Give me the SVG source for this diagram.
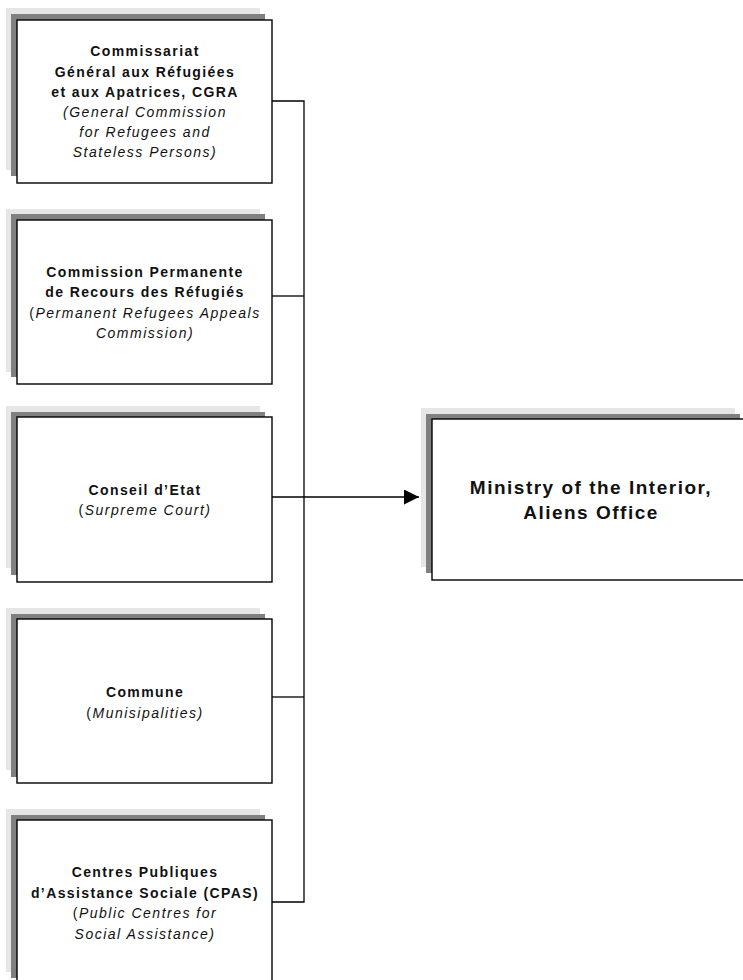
<svg xmlns="http://www.w3.org/2000/svg" width="743" height="980" viewBox="0 0 743 980">
<style>
.s1{fill:#e6e6e6}
.s2{fill:#808080}
.bx{fill:#fff;stroke:#000;stroke-width:1.4}
.b{font-family:"Liberation Sans",Arial,sans-serif;font-weight:bold;font-size:14px;letter-spacing:1.4px;fill:#111;text-anchor:middle}
.i{font-family:"Liberation Sans",Arial,sans-serif;font-style:italic;font-size:14px;letter-spacing:1.5px;fill:#111;text-anchor:middle}
.n{font-style:normal}
.m{font-family:"Liberation Sans",Arial,sans-serif;font-weight:bold;font-size:19px;letter-spacing:1.5px;fill:#111;text-anchor:middle}
.ln{fill:none;stroke:#000;stroke-width:1.3}
</style>
<defs>
<marker id="arr" markerWidth="15" markerHeight="15" refX="15" refY="7.5" orient="auto" markerUnits="userSpaceOnUse">
<path d="M0,0 L15,7.5 L0,15 Z" fill="#000"/>
</marker>
</defs>
<g id="cgra">
<rect class="s1" x="6" y="8" width="254" height="162"/>
<rect class="s2" x="11" y="14" width="254" height="162"/>
<rect class="bx" x="17" y="20" width="255" height="163"/>
<text class="b" x="145" y="56">Commissariat</text>
<text class="b" x="145" y="76.5">Général aux Réfugiées</text>
<text class="b" x="145" y="96.5">et aux Apatrices, CGRA</text>
<text class="i" x="145" y="116.5">(General Commission</text>
<text class="i" x="145" y="137">for Refugees and</text>
<text class="i" x="145" y="157">Stateless Persons)</text>
</g>
<g id="cprr">
<rect class="s1" x="6" y="209" width="254" height="163"/>
<rect class="s2" x="11" y="214" width="254" height="163"/>
<rect class="bx" x="17" y="220" width="255" height="164"/>
<text class="b" x="145" y="277">Commission Permanente</text>
<text class="b" x="145" y="297">de Recours des Réfugiés</text>
<text class="i" x="145" y="318"><tspan class="n">(</tspan>Permanent Refugees Appeals</text>
<text class="i" x="145" y="338">Commission)</text>
</g>
<g id="conseil">
<rect class="s1" x="6" y="406" width="254" height="162"/>
<rect class="s2" x="11" y="412" width="254" height="163"/>
<rect class="bx" x="17" y="417" width="255" height="165"/>
<text class="b" x="145" y="495">Conseil d’Etat</text>
<text class="i" x="145" y="515"><tspan class="n">(</tspan>Surpreme Court)</text>
</g>
<g id="commune">
<rect class="s1" x="6" y="608" width="254" height="162"/>
<rect class="s2" x="11" y="614" width="254" height="163"/>
<rect class="bx" x="17" y="619" width="255" height="164"/>
<text class="b" x="145" y="697">Commune</text>
<text class="i" x="145" y="718"><tspan class="n">(</tspan>Munisipalities)</text>
</g>
<g id="cpas">
<rect class="s1" x="6" y="809" width="254" height="163"/>
<rect class="s2" x="11" y="815" width="254" height="163"/>
<rect class="bx" x="17" y="820" width="255" height="164"/>
<text class="b" x="145" y="877">Centres Publiques</text>
<text class="b" x="145" y="898">d’Assistance Sociale (CPAS)</text>
<text class="i" x="145" y="918"><tspan class="n">(</tspan>Public Centres for</text>
<text class="i" x="145" y="939">Social Assistance)</text>
</g>
<g id="ministry">
<rect class="s1" x="421" y="408" width="314" height="159"/>
<rect class="s2" x="426" y="414" width="314" height="159"/>
<rect class="bx" x="432" y="419" width="330" height="161"/>
<text class="m" x="591" y="494">Ministry of the Interior,</text>
<text class="m" x="591" y="519">Aliens Office</text>
</g>
<g id="connectors">
<path class="ln" d="M272,101 H304 V902 H272"/>
<path class="ln" d="M272,296 H304"/>
<path class="ln" d="M272,697 H304"/>
<path class="ln" d="M272,497 H419" marker-end="url(#arr)"/>
</g>
</svg>
